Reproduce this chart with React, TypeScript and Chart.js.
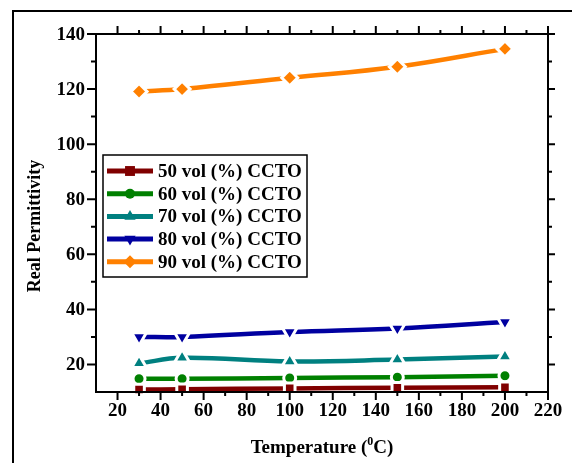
import React, { useEffect, useRef } from "react";
import { Chart, registerables } from "chart.js";
import type { ChartConfiguration, Plugin, PointStyle } from "chart.js";
import { drawPoint } from "chart.js/helpers";

Chart.register(...registerables);

// temperatures (°C)
const temperatures = [30, 50, 100, 150, 200];

// real permittivity for each CCTO loading
const ccto50 = [10.9, 11.0, 11.3, 11.5, 11.7];
const ccto60 = [14.8, 14.8, 15.1, 15.4, 15.9];
const ccto70 = [20.4, 22.4, 21.1, 21.8, 22.9];
const ccto80 = [30.0, 30.0, 31.8, 33.1, 35.4];
const ccto90 = [119.1, 120.0, 124.1, 128.1, 134.6];

const seriesLabels = [
  "50 vol (%) CCTO",
  "60 vol (%) CCTO",
  "70 vol (%) CCTO",
  "80 vol (%) CCTO",
  "90 vol (%) CCTO",
];

const xMajorTicks = [20, 40, 60, 80, 100, 120, 140, 160, 180, 200, 220];
const xMinorTicks = [30, 50, 70, 90, 110, 130, 150, 170, 190, 210];
const yMajorTicks = [20, 40, 60, 80, 100, 120, 140];
const yMinorTicks = [30, 50, 70, 90, 110, 130];

const FONT = '"Liberation Serif", "Times New Roman", serif';

type SeriesStyle = { color: string; style: PointStyle; rotation: number; radius: number; legendRadius: number };

const styles: SeriesStyle[] = [
  { color: "#800000", style: "rect", rotation: 0, radius: 7.5, legendRadius: 7 },
  { color: "#008000", style: "circle", rotation: 0, radius: 6, legendRadius: 5 },
  { color: "#008080", style: "triangle", rotation: 0, radius: 8.5, legendRadius: 6.5 },
  { color: "#0000a0", style: "triangle", rotation: 180, radius: 8.5, legendRadius: 6.5 },
  { color: "#ff8000", style: "rectRot", rotation: 0, radius: 8, legendRadius: 6.5 },
];

const allSeries = [ccto50, ccto60, ccto70, ccto80, ccto90];

const framePlugin: Plugin<"line"> = {
  id: "originFrame",
  afterDatasetsDraw(chart) {
    const ctx = chart.ctx;
    const { left, right, top, bottom } = chart.chartArea;
    const xs = chart.scales.x;
    const ys = chart.scales.y;
    ctx.save();
    ctx.strokeStyle = "#000";
    ctx.fillStyle = "#000";
    ctx.lineWidth = 2;
    ctx.lineCap = "butt";

    // outer frame (top and left only)
    ctx.beginPath();
    ctx.moveTo(13, chart.height);
    ctx.lineTo(13, 11);
    ctx.lineTo(chart.width, 11);
    ctx.stroke();

    ctx.strokeRect(left, top, right - left, bottom - top);

    ctx.beginPath();
    xMajorTicks.forEach((v) => {
      const px = xs.getPixelForValue(v);
      ctx.moveTo(px, bottom);
      ctx.lineTo(px, bottom + 8);
      ctx.moveTo(px, top);
      ctx.lineTo(px, top - 8);
    });
    xMinorTicks.forEach((v) => {
      const px = xs.getPixelForValue(v);
      ctx.moveTo(px, bottom);
      ctx.lineTo(px, bottom + 4);
      ctx.moveTo(px, top);
      ctx.lineTo(px, top - 4);
    });
    yMajorTicks.forEach((v) => {
      const py = ys.getPixelForValue(v);
      ctx.moveTo(left, py);
      ctx.lineTo(left - 9, py);
      ctx.moveTo(right, py);
      ctx.lineTo(right + 7, py);
    });
    yMinorTicks.forEach((v) => {
      const py = ys.getPixelForValue(v);
      ctx.moveTo(left, py);
      ctx.lineTo(left - 5, py);
      ctx.moveTo(right, py);
      ctx.lineTo(right + 4, py);
    });
    ctx.stroke();

    ctx.font = `bold 19px ${FONT}`;
    ctx.textAlign = "center";
    ctx.textBaseline = "top";
    xMajorTicks.forEach((v) => {
      ctx.fillText(String(v), xs.getPixelForValue(v), bottom + 10);
    });
    ctx.textAlign = "right";
    ctx.textBaseline = "middle";
    yMajorTicks.forEach((v) => {
      ctx.fillText(String(v), left - 11, ys.getPixelForValue(v) + 1);
    });

    // y title
    ctx.save();
    ctx.translate(35, 226);
    ctx.rotate(-Math.PI / 2);
    ctx.textAlign = "center";
    ctx.font = `bold 18px ${FONT}`;
    ctx.fillText("Real Permittivity", 0, 0);
    ctx.restore();

    // x title with superscript 0
    ctx.textBaseline = "alphabetic";
    ctx.textAlign = "left";
    const big = `bold 19px ${FONT}`;
    const small = `bold 12px ${FONT}`;
    ctx.font = big;
    const p1 = "Temperature (";
    const p3 = "C)";
    const w1 = ctx.measureText(p1).width;
    const w3 = ctx.measureText(p3).width;
    ctx.font = small;
    const w2 = ctx.measureText("0").width;
    const total = w1 + w2 + w3;
    const cx = (left + right) / 2;
    const base = 453;
    let x0 = cx - total / 2;
    ctx.font = big;
    ctx.fillText(p1, x0, base);
    x0 += w1;
    ctx.font = small;
    ctx.fillText("0", x0, base - 8);
    x0 += w2;
    ctx.font = big;
    ctx.fillText(p3, x0, base);

    // legend
    const lx = 103;
    const ly = 155;
    ctx.lineWidth = 1.5;
    ctx.fillStyle = "#fff";
    ctx.fillRect(lx, ly, 204, 122);
    ctx.strokeRect(lx, ly, 204, 122);
    seriesLabels.forEach((label, i) => {
      const st = styles[i];
      const ry = ly + 16 + i * 22.7;
      ctx.strokeStyle = st.color;
      ctx.lineWidth = 5;
      ctx.beginPath();
      ctx.moveTo(lx + 4, ry);
      ctx.lineTo(lx + 50, ry);
      ctx.stroke();
      ctx.fillStyle = st.color;
      drawPoint(ctx, { pointStyle: st.style, radius: st.legendRadius, rotation: st.rotation, borderWidth: 0 }, lx + 27, ry);
      ctx.fillStyle = "#000";
      ctx.font = `bold 19px ${FONT}`;
      ctx.textBaseline = "middle";
      ctx.textAlign = "left";
      ctx.fillText(label, lx + 55, ry + 1);
    });
    ctx.restore();
  },
};

const App: React.FC = () => {
  const canvasRef = useRef<HTMLCanvasElement | null>(null);

  useEffect(() => {
    const canvas = canvasRef.current;
    if (!canvas) return;

    const config: ChartConfiguration<"line", { x: number; y: number }[], number> = {
      type: "line",
      data: {
        datasets: allSeries.map((vals, i) => ({
          label: seriesLabels[i],
          data: temperatures.map((t, j) => ({ x: t, y: vals[j] })),
          borderColor: styles[i].color,
          backgroundColor: styles[i].color,
          borderWidth: 4.5,
          tension: 0.4,
          pointStyle: styles[i].style,
          pointRotation: styles[i].rotation,
          pointRadius: styles[i].radius,
          pointBackgroundColor: styles[i].color,
          pointBorderColor: "#ffffff",
          pointBorderWidth: 3,
          clip: false,
        })),
      },
      options: {
        responsive: false,
        animation: false,
        layout: { padding: { left: 96, top: 34, right: 24, bottom: 71 } },
        plugins: {
          legend: { display: false },
          title: { display: false },
          tooltip: { enabled: false },
        },
        scales: {
          x: { type: "linear", min: 10, max: 220, display: false },
          y: { type: "linear", min: 10, max: 140, display: false },
        },
      },
      plugins: [framePlugin],
    };

    const chart = new Chart(canvas, config);
    return () => {
      chart.destroy();
    };
  }, []);

  return (
    <div style={{ position: "absolute", left: 0, top: 0, width: 572, height: 463, background: "#fff" }}>
      <canvas ref={canvasRef} width={572} height={463}></canvas>
    </div>
  );
};

export default App;
